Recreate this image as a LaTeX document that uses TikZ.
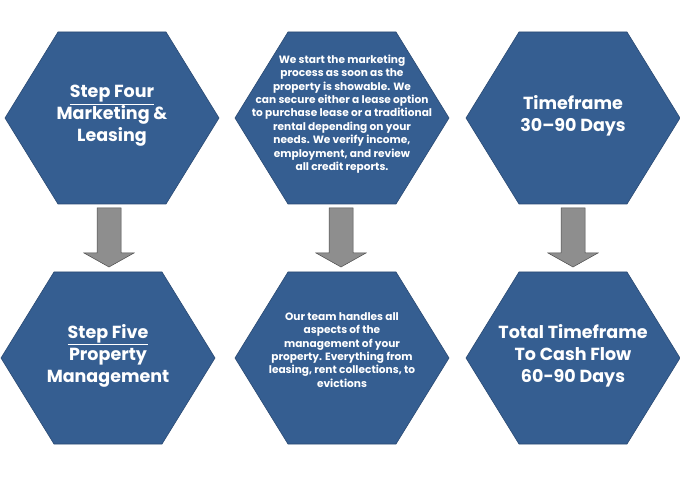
\documentclass[tikz,border=0pt]{standalone}
\usepackage{fontspec}
\setmainfont{Poppins}
\usetikzlibrary{positioning,calc}
\definecolor{hexblue}{HTML}{355E91}
\definecolor{hexedge}{HTML}{2A4A73}
\definecolor{arrowgray}{HTML}{8E8E8E}
\newcommand\hexa[1]{%
  \fill[hexblue, draw=hexedge, line width=0.6pt] ($(#1)+(-107,0)$) -- ($(#1)+(-54,86)$) -- ($(#1)+(54,86)$)
    -- ($(#1)+(107,0)$) -- ($(#1)+(54,-86)$) -- ($(#1)+(-54,-86)$) -- cycle;}
\newcommand\blockarrow[2]{%
  \fill[arrowgray, draw=black!70, line width=0.5pt] ($(#1)+(-12,0)$) -- ($(#1)+(12,0)$) -- ($(#1)+(12,-45)$)
    -- ($(#1)+(25,-45)$) -- (#2) -- ($(#1)+(-25,-45)$) -- ($(#1)+(-12,-45)$) -- cycle;}
\begin{document}
\begin{tikzpicture}[x=1pt, y=1pt,
  title/.style={text=white, font=\bfseries\fontsize{17.5}{22}\selectfont, align=center},
  body/.style={text=white, font=\bfseries\fontsize{10.6}{13.4}\selectfont, align=center}]
  \useasboundingbox (0,0) rectangle (680,477);
  % hexagon centres
  \coordinate (fourc) at (112,359);
  \coordinate (fivec) at (108,119);
  \coordinate (mktc) at (342,359);
  \coordinate (mgtc) at (342,119);
  \coordinate (timec) at (573,359);
  \coordinate (totalc) at (573,119);
  \foreach \c in {fourc,fivec,mktc,mgtc,timec,totalc} {\hexa{\c}}
  % arrows
  \coordinate (a1) at (109,269); \coordinate (t1) at (109,210);
  \coordinate (a2) at (341,269); \coordinate (t2) at (341,210);
  \coordinate (a3) at (573,269); \coordinate (t3) at (573,210);
  \blockarrow{a1}{t1}
  \blockarrow{a2}{t2}
  \blockarrow{a3}{t3}
  % texts
  \node[title] (four) at ($(fourc)+(0,2)$) {\underline{Step Four}\\Marketing \&\\Leasing};
  \node[title] (five) at ($(fivec)+(0,2)$) {\underline{Step Five}\\Property\\Management};
  \node[body] (mkt) at ($(mktc)+(0,4)$) {We start the marketing\\process as soon as the\\property is showable. We\\can secure either a lease option\\to purchase lease or a traditional\\rental depending on your\\needs. We verify income,\\employment, and review\\all credit reports.};
  \node[body] (mgt) at ($(mgtc)+(0,8)$) {Our team handles all\\aspects of the\\management of your\\property. Everything from\\leasing, rent collections, to\\evictions};
  \node[title] (time) at ($(timec)+(0,2)$) {Timeframe\\30–90 Days};
  \node[title] (total) at ($(totalc)+(0,2)$) {Total Timeframe\\To Cash Flow\\60-90 Days};
\end{tikzpicture}
\end{document}
